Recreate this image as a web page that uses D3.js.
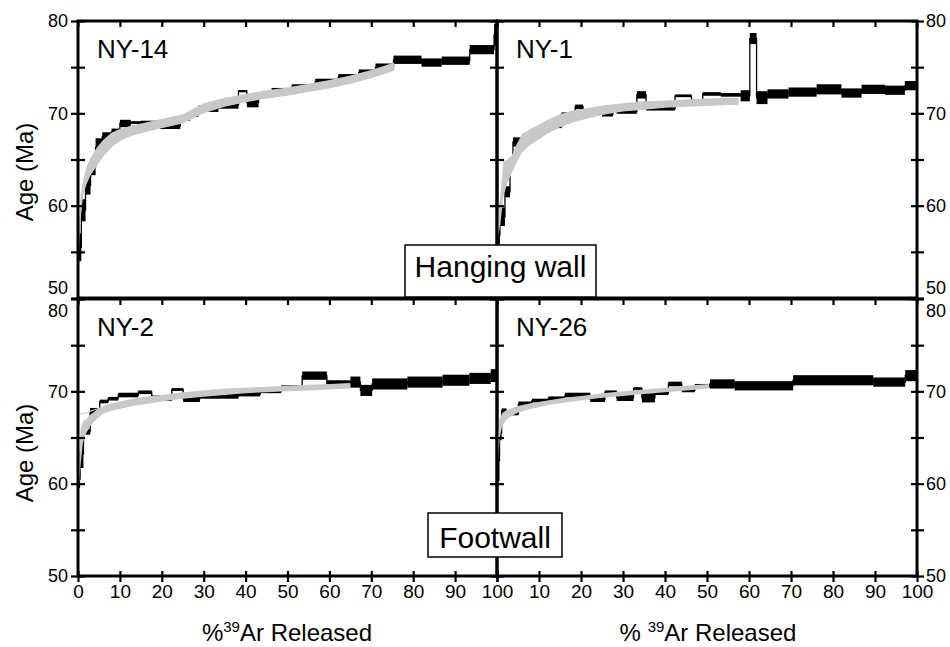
<!DOCTYPE html>
<html>
<head>
  <meta charset="UTF-8">
  <title>Age spectra</title>
  <script src="https://cdnjs.cloudflare.com/ajax/libs/d3/7.8.5/d3.min.js"></script>
  <style>
    body { margin: 0; background: #fff; }
    text { font-family: "Liberation Sans", Arial, sans-serif; fill: #000; }
    .tick line { stroke: #000; stroke-width: 2.2; }
    .domain { display: none; }
  </style>
</head>
<body>
<script>
    // axis ticks
    const xTicks = [0, 10, 20, 30, 40, 50, 60, 70, 80, 90, 100];
    const yTicks = [50, 55, 60, 65, 70, 75, 80];

    // NY-14 measured steps: cumulative % boundaries, age, 1 sigma
    const ny14Cum = [0, 0.8, 1.8, 3, 4.2, 5.8, 8, 10, 12.6, 15, 19.6, 24.4, 26.8, 28.7, 33.5, 38.3, 40.3, 43.1, 46.2, 51, 56.6, 62.1, 67, 71, 75.3, 82, 86.8, 93.5, 99.3, 100];
    const ny14Age = [55.5, 59.5, 62.2, 64.2, 66.3, 67.5, 68.0, 68.9, 69.0, 68.9, 68.6, 69.5, 69.9, 70.5, 70.9, 72.4, 71.2, 72.0, 72.4, 72.8, 73.4, 73.9, 74.4, 75.0, 75.8, 75.5, 75.7, 76.9, 78.5];
    const ny14Err = [1.5, 1.2, 1.0, 0.9, 1.0, 0.45, 0.35, 0.4, 0.15, 0.3, 0.3, 0.3, 0.3, 0.35, 0.4, 0.12, 0.55, 0.3, 0.35, 0.35, 0.35, 0.35, 0.35, 0.4, 0.45, 0.45, 0.45, 0.5, 1.2];
    // NY-14 model band
    const ny14ModelPct = [0.2, 0.6, 1.2, 2, 3, 4.5, 6, 8, 10, 13, 17, 21, 25, 30, 35, 40, 45, 50, 55, 60, 65, 70, 75.5];
    const ny14ModelLo = [54.5, 58.5, 61, 62.3, 63.3, 64.3, 65.3, 66.3, 67.0, 67.6, 68.1, 68.5, 68.9, 70.0, 70.7, 71.2, 71.6, 71.9, 72.3, 72.7, 73.2, 73.8, 74.6];
    const ny14ModelHi = [57, 61, 62.7, 64.2, 65.2, 66.3, 67.1, 67.9, 68.3, 68.7, 69.1, 69.5, 69.9, 71.1, 71.7, 72.1, 72.5, 72.8, 73.2, 73.6, 74.1, 74.7, 75.5];

    // NY-1
    const ny1Cum = [0, 0.7, 1.9, 3.1, 3.8, 5.9, 8.5, 11, 15.4, 18.6, 20.5, 23.3, 25, 27.6, 28.5, 33.3, 35.5, 42.4, 46.3, 49, 53.3, 58, 60.2, 61.8, 64.4, 69.4, 76.1, 82, 86.8, 92.4, 97.1, 100];
    const ny1Age = [56.8, 58.8, 61.5, 64.8, 66.9, 67.3, 67.8, 68.6, 69.9, 70.7, 69.8, 70.3, 69.9, 70.3, 70.2, 72.0, 70.5, 71.9, 71.3, 72.1, 72.0, 71.9, 78.1, 71.7, 72.1, 72.3, 72.6, 72.2, 72.6, 72.5, 73.0];
    const ny1Err = [1.0, 1.0, 0.6, 0.3, 0.5, 0.2, 0.2, 0.2, 0.2, 0.25, 0.2, 0.15, 0.25, 0.15, 0.25, 0.4, 0.2, 0.15, 0.15, 0.2, 0.2, 0.6, 0.6, 0.7, 0.5, 0.5, 0.55, 0.5, 0.5, 0.5, 0.5];
    const ny1ModelPct = [0.2, 0.8, 1.5, 2.5, 3.5, 4.5, 6, 8, 10, 12, 15, 18, 22, 26, 30, 35, 40, 45, 50, 55, 57.5];
    const ny1ModelLo = [56.5, 58, 61, 62.5, 63.5, 64.5, 65.8, 66.6, 67.2, 67.8, 68.5, 69.0, 69.5, 69.9, 70.2, 70.4, 70.6, 70.7, 70.8, 70.9, 70.9];
    const ny1ModelHi = [59, 61, 64.8, 65, 65.4, 66.5, 67.8, 68.3, 68.8, 69.3, 69.9, 70.3, 70.6, 70.9, 71.1, 71.3, 71.4, 71.5, 71.6, 71.7, 71.7];

    // NY-2
    const ny2Cum = [0, 0.5, 1.3, 2.9, 5.2, 7.2, 9.6, 14.4, 17.6, 19.6, 22.4, 25.1, 29.1, 38.3, 43.5, 48.5, 53.5, 59.4, 65, 67.4, 70.2, 78.6, 87, 93.4, 98.5, 100];
    const ny2Age = [60.5, 63.2, 65.6, 67.8, 68.9, 69.2, 69.6, 69.9, 69.4, 69.1, 70.2, 69.2, 69.5, 69.7, 70.0, 70.4, 71.7, 70.8, 71.0, 70.1, 70.8, 71.0, 71.2, 71.4, 71.7];
    const ny2Err = [1.0, 1.5, 0.3, 0.4, 0.2, 0.2, 0.25, 0.2, 0.15, 0.15, 0.15, 0.35, 0.3, 0.25, 0.2, 0.25, 0.45, 0.4, 0.6, 0.6, 0.6, 0.6, 0.6, 0.6, 0.7];
    const ny2ModelPct = [0.2, 0.6, 1.2, 2, 3, 4.5, 6, 8, 10, 13, 16, 20, 25, 30, 35, 40, 45, 50, 55, 60, 65];
    const ny2ModelLo = [59.5, 62, 64.5, 65.5, 66.3, 67.0, 67.6, 67.9, 68.1, 68.4, 68.6, 68.9, 69.2, 69.4, 69.6, 69.8, 69.9, 70.0, 70.1, 70.2, 70.3];
    const ny2ModelHi = [62, 66, 66.8, 67.0, 67.5, 68.0, 68.4, 68.7, 68.9, 69.2, 69.4, 69.6, 69.9, 70.1, 70.3, 70.4, 70.5, 70.6, 70.7, 70.8, 70.9];
    // one model run that starts higher
    const ny2AltPct = [0, 2, 4, 6];
    const ny2AltAge = [67.5, 67.7, 68.0, 68.3];

    // NY-26
    const ny26Cum = [0, 0.6, 1.1, 2.3, 5.1, 8.3, 12.2, 16.2, 22.2, 25.7, 28.5, 32.5, 34.5, 37.6, 40.8, 44, 47.1, 50.7, 56.6, 70.5, 89.6, 97.2, 100];
    const ny26Age = [62.5, 65.5, 67.9, 67.6, 68.6, 69.0, 69.2, 69.6, 69.1, 69.9, 69.3, 70.3, 69.3, 69.8, 70.8, 70.1, 70.6, 70.8, 70.6, 71.2, 71.0, 71.7];
    const ny26Err = [2.2, 0.8, 0.25, 0.2, 0.3, 0.2, 0.25, 0.25, 0.25, 0.2, 0.35, 0.15, 0.5, 0.2, 0.25, 0.2, 0.2, 0.5, 0.5, 0.55, 0.5, 0.6];
    const ny26ModelPct = [0.2, 0.6, 1.2, 2, 3, 5, 8, 12, 16, 20, 25, 30, 35, 40, 45, 50.5];
    const ny26ModelLo = [62, 64.8, 66.2, 66.8, 67.2, 67.7, 68.1, 68.5, 68.8, 69.0, 69.3, 69.5, 69.7, 69.9, 70.1, 70.3];
    const ny26ModelHi = [65.5, 67, 67.6, 67.9, 68.1, 68.4, 68.7, 69.0, 69.3, 69.5, 69.8, 70.0, 70.2, 70.4, 70.6, 70.8];

    const panels = [
      {name: "NY-14", col: 0, row: 0, cum: ny14Cum, age: ny14Age, err: ny14Err, mPct: ny14ModelPct, mLo: ny14ModelLo, mHi: ny14ModelHi},
      {name: "NY-1", col: 1, row: 0, cum: ny1Cum, age: ny1Age, err: ny1Err, mPct: ny1ModelPct, mLo: ny1ModelLo, mHi: ny1ModelHi},
      {name: "NY-2", col: 0, row: 1, cum: ny2Cum, age: ny2Age, err: ny2Err, mPct: ny2ModelPct, mLo: ny2ModelLo, mHi: ny2ModelHi, altPct: ny2AltPct, altAge: ny2AltAge},
      {name: "NY-26", col: 1, row: 1, cum: ny26Cum, age: ny26Age, err: ny26Err, mPct: ny26ModelPct, mLo: ny26ModelLo, mHi: ny26ModelHi}
    ];

    const xRanges = [[78, 497], [497, 917]];
    const yRanges = [[298, 21], [576, 299]];
    const tickFont = 18;

    const svg = d3.select("body")
      .append("svg")
      .attr("width", 950)
      .attr("height", 647);

    const defs = svg.append("defs");

    // y label offsets: the 50 of the upper panel and the 80 of the lower panel are pushed apart
    function yDy(row, d) {
      if (row === 0 && d === 50) return "-5px";
      if (row === 1 && d === 80) return "17px";
      return "0.32em";
    }

    panels.forEach((p, k) => {
      const x = d3.scaleLinear().domain([0, 100]).range(xRanges[p.col]);
      const y = d3.scaleLinear().domain([50, 80]).range(yRanges[p.row]);
      const g = svg.append("g");

      defs.append("clipPath").attr("id", "clip" + k)
        .append("rect")
        .attr("x", x(0)).attr("y", y(80))
        .attr("width", x(100) - x(0)).attr("height", y(50) - y(80));

      const plot = g.append("g").attr("clip-path", `url(#clip${k})`);

      // measured spectrum: boxes + step line
      const steps = p.age.map((a, i) => ({x0: p.cum[i], x1: p.cum[i + 1], age: a, err: p.err[i]}));
      const pts = steps.map(s => [s.x0, s.age]);
      pts.push([p.cum[p.cum.length - 1], p.age[p.age.length - 1]]);

      plot.append("path")
        .attr("d", d3.line().x(d => x(d[0])).y(d => y(d[1])).curve(d3.curveStepAfter)(pts))
        .attr("fill", "none")
        .attr("stroke", "#000")
        .attr("stroke-width", 1.3);

      plot.selectAll(".step")
        .data(steps)
        .enter()
        .append("rect")
        .attr("class", "step")
        .attr("x", d => x(d.x0))
        .attr("width", d => Math.max(1, x(d.x1) - x(d.x0)))
        .attr("y", d => y(d.age + d.err))
        .attr("height", d => Math.max(1.5, y(d.age - d.err) - y(d.age + d.err)))
        .attr("fill", "#000");

      // model band
      const model = p.mPct.map((v, i) => ({pct: v, lo: p.mLo[i], hi: p.mHi[i]}));
      plot.append("path")
        .attr("d", d3.area().x(d => x(d.pct)).y0(d => y(d.lo)).y1(d => y(d.hi))(model))
        .attr("fill", "#c8c8c8");

      if (p.altPct) {
        plot.append("path")
          .attr("d", d3.line().x(d => x(d[0])).y(d => y(d[1]))(p.altPct.map((v, i) => [v, p.altAge[i]])))
          .attr("fill", "none")
          .attr("stroke", "#cfcfcf")
          .attr("stroke-width", 1.2);
      }

      // ticks on the top edge, pointing in
      g.append("g")
        .attr("transform", `translate(0,${y(80)})`)
        .call(d3.axisBottom(x).tickValues(xTicks).tickSize(6).tickFormat(""));

      // bottom edge of lower panels
      if (p.row === 1) {
        const xFmt = p.col === 0 ? (d => d) : (d => d === 0 ? "" : d);
        g.append("g")
          .attr("class", "xlab")
          .attr("transform", `translate(0,${y(50)})`)
          .call(d3.axisBottom(x).tickValues(xTicks).tickSize(6).tickPadding(3).tickFormat(xFmt));
        g.append("g")
          .attr("transform", `translate(0,${y(50)})`)
          .call(d3.axisTop(x).tickValues(xTicks).tickSize(5).tickFormat(""));
      }

      const yFmt = d => d % 10 === 0 ? d : "";
      const xl = x(0), xr = x(100);
      if (p.col === 0) {
        const ax = g.append("g")
          .attr("class", "ylab")
          .attr("transform", `translate(${xl},0)`)
          .call(d3.axisLeft(y).tickValues(yTicks).tickSize(7).tickPadding(3).tickFormat(yFmt));
        g.append("g")
          .attr("transform", `translate(${xl},0)`)
          .call(d3.axisRight(y).tickValues(yTicks).tickSize(7).tickFormat(""));
        ax.selectAll("text").attr("dy", d => yDy(p.row, d));
      } else {
        g.append("g")
          .attr("transform", `translate(${xl},0)`)
          .call(d3.axisLeft(y).tickValues(yTicks).tickSize(7).tickFormat(""));
        g.append("g")
          .attr("transform", `translate(${xl},0)`)
          .call(d3.axisRight(y).tickValues(yTicks).tickSize(7).tickFormat(""));
        const ax = g.append("g")
          .attr("class", "ylab")
          .attr("transform", `translate(${xr},0)`)
          .call(d3.axisRight(y).tickValues(yTicks).tickSize(7).tickPadding(2).tickFormat(yFmt));
        g.append("g")
          .attr("transform", `translate(${xr},0)`)
          .call(d3.axisLeft(y).tickValues(yTicks).tickSize(6).tickFormat(""));
        ax.selectAll("text").attr("dy", d => yDy(p.row, d));
      }

      // frame
      g.append("rect")
        .attr("x", xl).attr("y", y(80))
        .attr("width", xr - xl).attr("height", y(50) - y(80))
        .attr("fill", "none")
        .attr("stroke", "#000")
        .attr("stroke-width", 3);

      // sample name
      g.append("text")
        .attr("x", xl + 19)
        .attr("y", y(80) + 37)
        .attr("font-size", 26)
        .text(p.name);
    });

    svg.selectAll(".xlab text, .ylab text").attr("font-size", tickFont);
    svg.selectAll(".xlab text").attr("font-size", 19);

    // axis titles
    [172, 453].forEach(cy => {
      svg.append("text")
        .attr("transform", `translate(33,${cy}) rotate(-90)`)
        .attr("text-anchor", "middle")
        .attr("font-size", 24)
        .text("Age (Ma)");
    });

    const t1 = svg.append("text")
      .attr("x", 287).attr("y", 641)
      .attr("text-anchor", "middle")
      .attr("font-size", 24);
    t1.append("tspan").text("%");
    t1.append("tspan").attr("font-size", 15).attr("dy", -9).text("39");
    t1.append("tspan").attr("dy", 9).text("Ar Released");

    const t2 = svg.append("text")
      .attr("x", 708).attr("y", 641)
      .attr("text-anchor", "middle")
      .attr("font-size", 24);
    t2.append("tspan").text("% ");
    t2.append("tspan").attr("font-size", 15).attr("dy", -9).text("39");
    t2.append("tspan").attr("dy", 9).text("Ar Released");

    // group labels
    const boxes = [
      {label: "Hanging wall", x: 405, y: 245, w: 191, h: 52, base: 277},
      {label: "Footwall", x: 428, y: 513, w: 134, h: 44, base: 548}
    ];
    boxes.forEach(b => {
      svg.append("rect")
        .attr("x", b.x).attr("y", b.y)
        .attr("width", b.w).attr("height", b.h)
        .attr("fill", "#fff")
        .attr("stroke", "#000")
        .attr("stroke-width", 1.5);
      svg.append("text")
        .attr("x", b.x + b.w / 2).attr("y", b.base)
        .attr("text-anchor", "middle")
        .attr("font-size", 30)
        .text(b.label);
    });
</script>
</body>
</html>
